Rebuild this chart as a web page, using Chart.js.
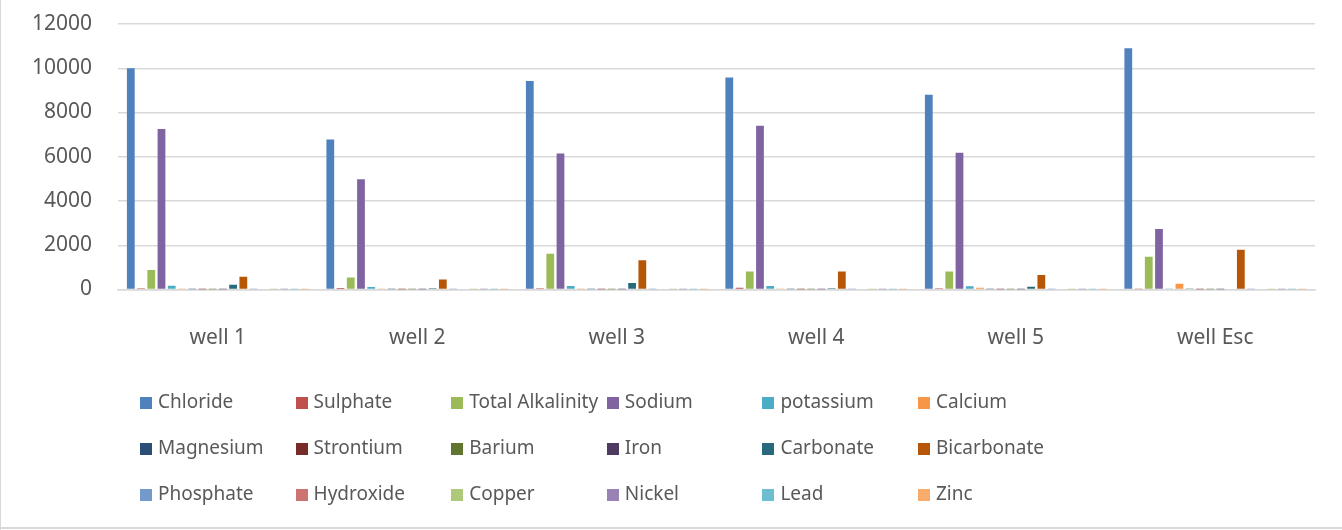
<!DOCTYPE html>
<html>
<head>
<meta charset="utf-8">
<script src="https://cdn.jsdelivr.net/npm/chart.js@4.4.1/dist/chart.umd.min.js"></script>
<style>
  html, body { margin: 0; padding: 0; background: #fff; }
  #wrap { position: relative; width: 1342px; height: 530px; overflow: hidden; font-family: "Noto Sans", sans-serif; }
  #wrap canvas { position: absolute; left: 0; top: 0; }
  #frameL { position: absolute; left: 0; top: 0; width: 1px; height: 530px; background: #d9d9d9; }
  #frameB { position: absolute; left: 0; top: 527px; width: 1342px; height: 2px; background: #d9d9d9; }
  .lg { position: absolute; height: 24px; line-height: 24px; font-size: 19px; color: #595959; white-space: nowrap; }
  .lg i { display: inline-block; width: 12px; height: 12px; margin-right: 6px; vertical-align: -1px; }
</style>
</head>
<body>
<div id="wrap">
  <canvas id="chem-bar-chart" width="1342" height="530"></canvas>
  <div id="legend"></div>
  <div id="frameL"></div>
  <div id="frameB"></div>
</div>
<script>
var wells = ["well 1", "well 2", "well 3", "well 4", "well 5", "well Esc"];

var chloride     = [10000, 6780, 9420, 9580, 8800, 10900];
var sulphate     = [60, 70, 60, 80, 60, 10];
var alkalinity   = [880, 540, 1620, 810, 810, 1480];
var sodium       = [7250, 4980, 6150, 7400, 6180, 2740];
var potassium    = [170, 110, 160, 160, 150, 40];
var calcium      = [20, 20, 15, 20, 80, 260];
var magnesium    = [10, 10, 10, 10, 10, 20];
var strontium    = [5, 5, 5, 5, 5, 5];
var barium       = [3, 3, 3, 3, 3, 3];
var iron         = [5, 5, 5, 5, 5, 5];
var carbonate    = [220, 60, 290, 60, 120, 0];
var bicarbonate  = [580, 450, 1320, 810, 650, 1800];
var phosphate    = [10, 10, 10, 10, 10, 10];
var hydroxide    = [0, 0, 0, 0, 0, 0];
var copper       = [3, 3, 3, 3, 3, 3];
var nickel       = [3, 3, 3, 3, 3, 3];
var lead         = [3, 3, 3, 3, 3, 3];
var zinc         = [3, 3, 3, 3, 3, 3];

var seriesNames = ["Chloride", "Sulphate", "Total Alkalinity", "Sodium", "potassium", "Calcium",
                   "Magnesium", "Strontium", "Barium", "Iron", "Carbonate", "Bicarbonate",
                   "Phosphate", "Hydroxide", "Copper", "Nickel", "Lead", "Zinc"];
var seriesValues = [chloride, sulphate, alkalinity, sodium, potassium, calcium,
                    magnesium, strontium, barium, iron, carbonate, bicarbonate,
                    phosphate, hydroxide, copper, nickel, lead, zinc];
var seriesColors = ["#4F81BD", "#C0504D", "#9BBB59", "#8064A2", "#4BACC6", "#F79646",
                    "#2C4D75", "#772C2A", "#5F7530", "#4D3B62", "#276A7C", "#B65708",
                    "#729ACA", "#CD7371", "#AFC97A", "#9983B5", "#6FBDD1", "#F9AB6B"];
var yTicks = [0, 2000, 4000, 6000, 8000, 10000, 12000];

var datasets = seriesNames.map(function(name, i){
    return {
        label: name,
        data: seriesValues[i],
        backgroundColor: seriesColors[i],
        borderWidth: 0,
        categoryPercentage: 0.923,
        barPercentage: 0.76
    };
});

var axisFont = { family: "Noto Sans", size: 21 };

var config = {
    type: 'bar',
    data: { labels: wells, datasets: datasets },
    options: {
        responsive: false,
        animation: false,
        layout: { padding: { top: 24, right: 27, left: 0, bottom: 0 } },
        plugins: { legend: { display: false }, tooltip: { enabled: false } },
        scales: {
            x: {
                grid: { display: false },
                border: { color: "#d9d9d9", width: 1.5 },
                ticks: { color: "#595959", font: axisFont, padding: 28 },
                afterFit: function(s){ s.height = 530 - 289.5; }
            },
            y: {
                min: 0,
                max: 12000,
                afterBuildTicks: function(s){ s.ticks = yTicks.map(function(v){ return { value: v }; }); },
                // gap between labels and plot comes from an invisible tick mark,
                // so it doesn't push the top of the plot down
                grid: { color: "#d9d9d9", lineWidth: 1.5, drawTicks: true, tickLength: 26, tickColor: "rgba(0,0,0,0)" },
                border: { display: false },
                ticks: { color: "#595959", font: axisFont, padding: 0,
                         callback: function(v){ return String(v); } },
                afterFit: function(s){ s.width = 118; }
            }
        }
    }
};

// Create the chart
var chemChart = new Chart(document.getElementById("chem-bar-chart"), config);

// legend: 3 rows of 6 equal columns, as in the original
var legendBox = document.getElementById("legend");
seriesNames.forEach(function(name, i){
    var col = i % 6, row = Math.floor(i / 6);
    var el = document.createElement("div");
    el.className = "lg";
    el.style.left = (140 + col * 155.6) + "px";
    el.style.top = (401 + row * 46 - 12) + "px";
    el.innerHTML = '<i style="background:' + seriesColors[i] + '"></i>' + name;
    legendBox.appendChild(el);
});
</script>
</body>
</html>
